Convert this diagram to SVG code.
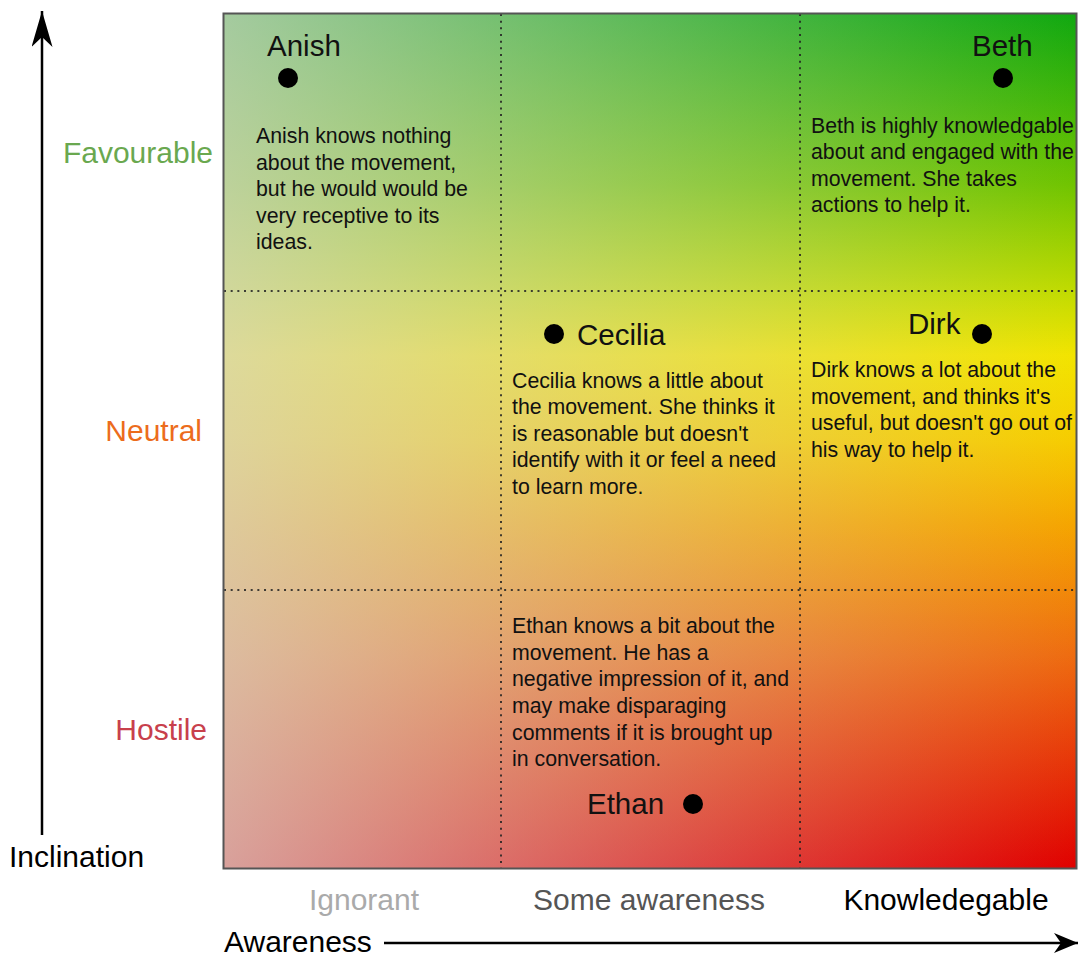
<svg xmlns="http://www.w3.org/2000/svg" width="1079" height="956" viewBox="0 0 1079 956">
<defs>
<linearGradient id="base" x1="0" y1="0" x2="0" y2="1">
<stop offset="0" stop-color="#10a810"/>
<stop offset="0.2" stop-color="#70c400"/>
<stop offset="0.33" stop-color="#c4dc00"/>
<stop offset="0.4" stop-color="#f2e400"/>
<stop offset="0.5" stop-color="#f6cc00"/>
<stop offset="0.6" stop-color="#f5a400"/>
<stop offset="0.75" stop-color="#ee6c10"/>
<stop offset="1" stop-color="#e00000"/>
</linearGradient>
<linearGradient id="wash" x1="0" y1="0" x2="1" y2="0">
<stop offset="0" stop-color="#d6d6cf" stop-opacity="0.75"/>
<stop offset="1" stop-color="#d6d6cf" stop-opacity="0"/>
</linearGradient>
<marker id="arrow" viewBox="0 0 24 20" refX="24" refY="10" markerWidth="24" markerHeight="20" markerUnits="userSpaceOnUse" orient="auto">
<path d="M0,0 L24,10 L0,20 L7,10 Z" fill="#000"/>
</marker>
<marker id="arrowBig" viewBox="0 0 36 21" refX="36" refY="10.5" markerWidth="36" markerHeight="21" markerUnits="userSpaceOnUse" orient="auto">
<path d="M0,0 L36,10.5 L0,21 L10,10.5 Z" fill="#000"/>
</marker>
</defs>
<style>
text { font-family: "Liberation Sans", Arial, sans-serif; }
.big { font-size: 30px; }
.name { font-size: 29.5px; fill: #111; }
.desc { font-size: 21.3px; fill: #111; }
.grid { stroke: #222; stroke-width: 2; stroke-dasharray: 2 4.67; stroke-opacity: 0.85; fill: none; }
.axis { stroke: #000; stroke-width: 2.5; fill: none; }
.dot { fill: #000; }
</style>

<g id="chart">
<rect x="223.5" y="13.5" width="853" height="855" fill="url(#base)"/>
<rect x="223.5" y="13.5" width="853" height="855" fill="url(#wash)"/>
<g id="gridlines">
<line class="grid" x1="501" y1="14" x2="501" y2="868"/>
<line class="grid" x1="800" y1="14" x2="800" y2="868"/>
<line class="grid" x1="224" y1="291" x2="1076" y2="291"/>
<line class="grid" x1="224" y1="590" x2="1076" y2="590"/>
</g>
<rect x="223.5" y="13.5" width="853" height="855" fill="none" stroke="#555" stroke-width="2"/>
</g>

<g id="connectors">
<line class="axis" x1="42" y1="835" x2="42" y2="11" marker-end="url(#arrowBig)"/>
<line class="axis" x1="384" y1="943" x2="1078" y2="943" marker-end="url(#arrow)"/>
</g>

<g id="axis-labels">
<text class="big" x="9" y="867" fill="#000">Inclination</text>
<text class="big" x="224" y="952" fill="#000">Awareness</text>
<text class="big" x="213" y="163" text-anchor="end" fill="#6aa84f">Favourable</text>
<text class="big" x="202" y="441" text-anchor="end" fill="#ec6c1c">Neutral</text>
<text class="big" x="207" y="740" text-anchor="end" fill="#c8404c">Hostile</text>
<text class="big" x="364" y="910" text-anchor="middle" fill="#aaaaaa">Ignorant</text>
<text class="big" x="649" y="910" text-anchor="middle" fill="#555555">Some awareness</text>
<text class="big" x="946" y="910" text-anchor="middle" fill="#000">Knowledegable</text>
</g>

<g id="anish">
<text class="name" x="267" y="56">Anish</text>
<circle class="dot" cx="288" cy="78" r="10"/>
<text class="desc">
<tspan x="256" y="143">Anish knows nothing</tspan>
<tspan x="256" y="169.5">about the movement,</tspan>
<tspan x="256" y="196">but he would would be</tspan>
<tspan x="256" y="222.5">very receptive to its</tspan>
<tspan x="256" y="249">ideas.</tspan>
</text>
</g>

<g id="beth">
<text class="name" x="972" y="56">Beth</text>
<circle class="dot" cx="1003" cy="78" r="10"/>
<text class="desc">
<tspan x="811" y="132.5">Beth is highly knowledgable</tspan>
<tspan x="811" y="159">about and engaged with the</tspan>
<tspan x="811" y="185.5">movement. She takes</tspan>
<tspan x="811" y="212">actions to help it.</tspan>
</text>
</g>

<g id="cecilia">
<circle class="dot" cx="554" cy="334" r="10"/>
<text class="name" x="577" y="344.5">Cecilia</text>
<text class="desc">
<tspan x="512" y="387.5">Cecilia knows a little about</tspan>
<tspan x="512" y="414">the movement. She thinks it</tspan>
<tspan x="512" y="440.5">is reasonable but doesn't</tspan>
<tspan x="512" y="467">identify with it or feel a need</tspan>
<tspan x="512" y="493.5">to learn more.</tspan>
</text>
</g>

<g id="dirk">
<text class="name" x="908" y="334">Dirk</text>
<circle class="dot" cx="982" cy="334" r="10"/>
<text class="desc">
<tspan x="811" y="377">Dirk knows a lot about the</tspan>
<tspan x="811" y="403.5">movement, and thinks it's</tspan>
<tspan x="811" y="430">useful, but doesn't go out of</tspan>
<tspan x="811" y="456.5">his way to help it.</tspan>
</text>
</g>

<g id="ethan">
<text class="desc">
<tspan x="512" y="633">Ethan knows a bit about the</tspan>
<tspan x="512" y="659.7">movement. He has a</tspan>
<tspan x="512" y="686.3">negative impression of it, and</tspan>
<tspan x="512" y="713">may make disparaging</tspan>
<tspan x="512" y="739.7">comments if it is brought up</tspan>
<tspan x="512" y="766.3">in conversation.</tspan>
</text>
<text class="name" x="587" y="814">Ethan</text>
<circle class="dot" cx="693" cy="804" r="10"/>
</g>
</svg>
